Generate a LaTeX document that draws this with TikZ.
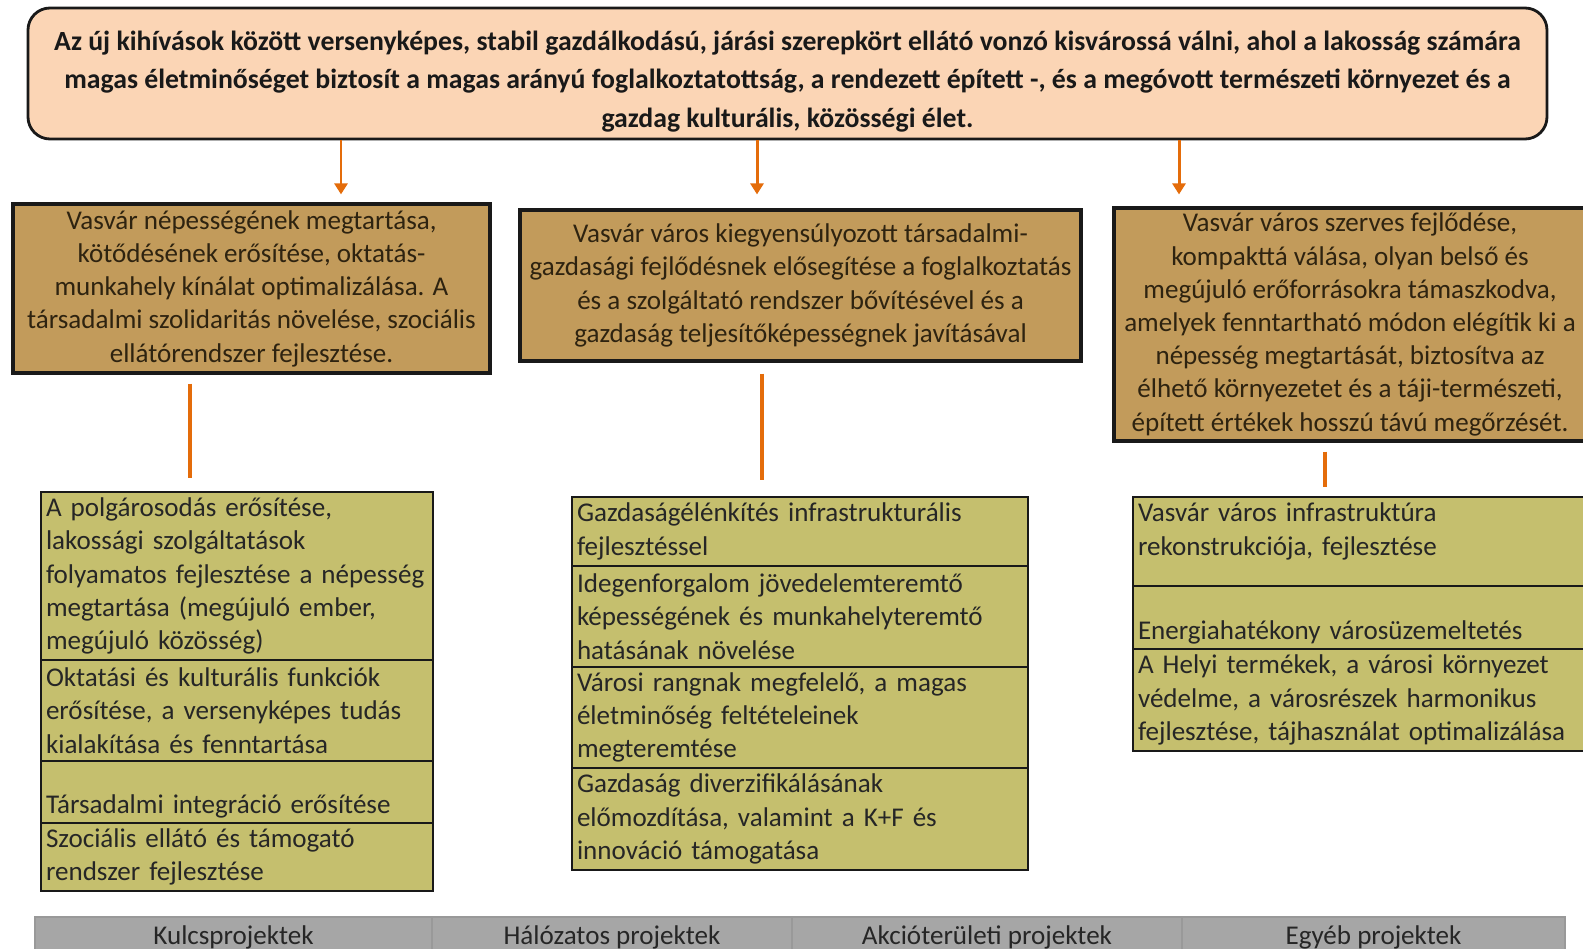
\documentclass[tikz,border=0pt]{standalone}
\usepackage{fontspec}
\setmainfont{Carlito}
\usetikzlibrary{arrows.meta, positioning}

\definecolor{peach}{HTML}{FBD5B5}
\definecolor{goalfill}{HTML}{C29B5B}
\definecolor{cellfill}{HTML}{C5BF6E}
\definecolor{tabfill}{HTML}{A6A6A6}
\definecolor{flow}{HTML}{E46C0A}
\definecolor{goaltext}{HTML}{2E2310}

\begin{document}
\begin{tikzpicture}[x=0.1mm, y=-0.1mm,
	vision/.style={draw=black!90, line width=0.8pt, fill=peach, rounded corners=2.2mm, align=center, inner sep=0pt,
		font=\bfseries\fontsize{7.9}{10.9}\selectfont, text=black!90},
	goal/.style={draw=black!90, line width=0.9pt, fill=goalfill, align=center, inner sep=0pt,
		font=\fontsize{7.7}{9.45}\selectfont, text=goaltext},
	cell/.style={draw=black!90, line width=0.7pt, fill=cellfill, anchor=north west, align=left, outer sep=0pt,
		inner xsep=0.5mm, inner ysep=0pt, font=\fontsize{7.7}{9.45}\selectfont, text=black!85},
	tab/.style={draw=black!40, line width=0.4pt, fill=tabfill, outer sep=0pt, inner sep=0pt,
		minimum height=4mm, font=\fontsize{7.7}{9.45}\selectfont, text=black!85},
	flowarrow/.style={draw=flow, line width=0.85pt, -{Triangle[width=1.3mm, length=1.1mm]}},
	flowline/.style={draw=flow, line width=1.1pt}]
	\useasboundingbox (0,0) rectangle (1583,949);
	\clip (0,0) rectangle (1583,949);

	% vision
	\node[vision, minimum width=151.9mm, minimum height=13.1mm] (vision) at (787.5,73.5)
		{\rule{0pt}{10pt}Az új kihívások között versenyképes, stabil gazdálkodású, járási szerepkört ellátó vonzó kisvárossá válni, ahol a lakosság számára\\
		magas életminőséget biztosít a magas arányú foglalkoztatottság, a rendezett épített -, és a megóvott természeti környezet és a\\
		gazdag kulturális, közösségi élet.};

	% goals
	\node[goal, minimum width=47.7mm, minimum height=16.9mm] (people) at (251.5,288.5)
		{Vasvár népességének megtartása,\\kötődésének erősítése, oktatás-\\munkahely kínálat optimalizálása. A\\
		társadalmi szolidaritás növelése, szociális\\ellátórendszer fejlesztése.};
	\node[goal, minimum width=56.1mm, minimum height=15.1mm] (economy) at (800.5,285.5)
		{Vasvár város kiegyensúlyozott társadalmi-\\gazdasági fejlődésnek elősegítése a foglalkoztatás\\
		és a szolgáltató rendszer bővítésével és a\\gazdaság teljesítőképességnek javításával};
	\node[goal, minimum width=47.2mm, minimum height=23.3mm] (growth) at (1350,324.5)
		{Vasvár város szerves fejlődése,\\kompakttá válása, olyan belső és\\megújuló erőforrásokra támaszkodva,\\
		amelyek fenntartható módon elégítik ki a\\népesség megtartását, biztosítva az\\
		élhető környezetet és a táji-természeti,\\épített értékek hosszú távú megőrzését.};

	% priorities, left column
	\node[cell, text width=38.2mm, minimum height=16.8mm] (p1) at (41,492)
		{A polgárosodás erősítése,\\lakossági szolgáltatások\\folyamatos fejlesztése a népesség\\
		megtartása (megújuló ember,\\megújuló közösség)};
	\node[cell, text width=38.2mm, minimum height=10.1mm, below=0pt of p1.south west, anchor=north west] (p2)
		{Oktatási és kulturális funkciók\\erősítése, a versenyképes tudás\\kialakítása és fenntartása};
	\node[cell, text width=38.2mm, minimum height=6.2mm, below=0pt of p2.south west, anchor=north west] (p3)
		{\rule{0pt}{4.8mm}Társadalmi integráció erősítése};
	\node[cell, text width=38.2mm, minimum height=6.8mm, below=0pt of p3.south west, anchor=north west] (p4)
		{Szociális ellátó és támogató\\rendszer fejlesztése};

	% priorities, middle column
	\node[cell, text width=44.6mm, minimum height=6.9mm] (e1) at (572,497)
		{Gazdaságélénkítés infrastrukturális\\fejlesztéssel};
	\node[cell, text width=44.6mm, minimum height=10.1mm, below=0pt of e1.south west, anchor=north west] (e2)
		{Idegenforgalom jövedelemteremtő\\képességének és munkahelyteremtő\\hatásának növelése};
	\node[cell, text width=44.6mm, minimum height=10.1mm, below=0pt of e2.south west, anchor=north west] (e3)
		{Városi rangnak megfelelő, a magas\\életminőség feltételeinek\\megteremtése};
	\node[cell, text width=44.6mm, minimum height=10.2mm, below=0pt of e3.south west, anchor=north west] (e4)
		{Gazdaság diverzifikálásának\\előmozdítása, valamint a K+F és\\innováció támogatása};

	% priorities, right column
	\node[cell, text width=46mm, minimum height=8.9mm] (g1) at (1133,497)
		{Vasvár város infrastruktúra\\rekonstrukciója, fejlesztése\par\vspace{2mm}\hrule height 0pt};
	\node[cell, text width=46mm, minimum height=6.3mm, below=0pt of g1.south west, anchor=north west] (g2)
		{\rule{0pt}{4.8mm}Energiahatékony városüzemeltetés};
	\node[cell, text width=46mm, minimum height=10.2mm, below=0pt of g2.south west, anchor=north west] (g3)
		{A Helyi termékek, a városi környezet\\védelme, a városrészek harmonikus\\fejlesztése, tájhasználat optimalizálása};

	% project types
	\node[tab, anchor=north west, minimum width=39.7mm] (t1) at (35,917) {Kulcsprojektek};
	\node[tab, minimum width=36mm, right=0pt of t1] (t2) {Hálózatos projektek};
	\node[tab, minimum width=39mm, right=0pt of t2] (t3) {Akcióterületi projektek};
	\node[tab, minimum width=38.3mm, right=0pt of t3] (t4) {Egyéb projektek};

	% connectors
	\coordinate (xa) at (341,0);
	\coordinate (xb) at (757,0);
	\coordinate (xc) at (1179,0);
	\draw[flowarrow, shorten >=0.8mm] (vision.south -| xa) -- (people.north -| xa);
	\draw[flowarrow, shorten >=1.4mm] (vision.south -| xb) -- (economy.north -| xb);
	\draw[flowarrow, shorten >=1.2mm] (vision.south -| xc) -- (growth.north -| xc);

	\coordinate (ya) at (190,0);
	\coordinate (yb) at (762,0);
	\coordinate (yc) at (1325,0);
	\draw[flowline, shorten <=0.9mm, shorten >=1.4mm] (people.south -| ya) -- (p1.north -| ya);
	\draw[flowline, shorten <=1.1mm, shorten >=1.7mm] (economy.south -| yb) -- (e1.north -| yb);
	\draw[flowline, shorten <=0.9mm, shorten >=1mm] (growth.south -| yc) -- (g1.north -| yc);
\end{tikzpicture}
\end{document}
